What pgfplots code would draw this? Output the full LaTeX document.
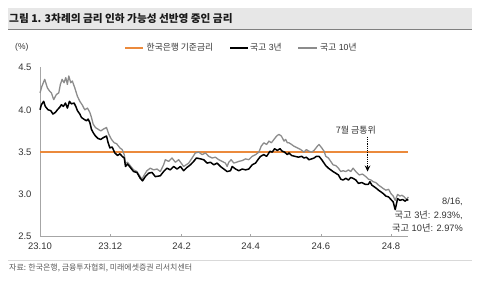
\documentclass[border=0pt]{standalone}
\usepackage{fontspec}
\setmainfont{Liberation Sans}
\newfontfamily\kr{Noto Sans CJK KR}
\usepackage{pgfplots}
\pgfplotsset{compat=1.18}
\usetikzlibrary{arrows.meta}

\definecolor{baseorange}{HTML}{EB8A3C}
\definecolor{tengray}{HTML}{8C8C8C}
\definecolor{axisgray}{HTML}{A6A6A6}
\definecolor{bandgray}{HTML}{E7E7E7}
\definecolor{txt}{HTML}{333333}

% x = days since 2023-10-01
\pgfplotstableread{
d v
0 4.00
1.2 4.06
3.2 4.10
4.6 4.04
7 4.00
9.3 3.99
11.3 3.95
13.4 3.97
15.1 4.00
17.1 4.03
18.6 4.06
20.3 4.04
22.1 4.08
23.8 4.02
25.6 4.10
27.3 4.07
29.6 4.08
31.1 4.04
32.5 3.99
34.6 3.95
36 3.91
38 3.89
40.4 3.87
41.8 3.89
43.3 3.85
44.7 3.77
46.2 3.73
48.2 3.69
50.5 3.66
52.8 3.65
54.9 3.67
57.8 3.69
59.2 3.61
60.7 3.55
62.7 3.56
65 3.49
67.4 3.46
69.4 3.48
71.4 3.45
73.2 3.43
74.3 3.33
76 3.36
78.4 3.32
81.3 3.27
84.2 3.26
87.1 3.19
89.1 3.16
91.5 3.21
94.3 3.25
97.3 3.26
100.2 3.21
104.5 3.22
107.4 3.27
110.3 3.31
113.2 3.29
116.1 3.33
119.1 3.30
122 3.33
124.8 3.28
127.8 3.32
130.7 3.35
133.5 3.39
135.9 3.43
139.4 3.42
142.2 3.41
145.2 3.37
148.1 3.38
151 3.35
153.9 3.37
156.8 3.33
159.7 3.30
162.6 3.27
165.5 3.28
167 3.33
169.9 3.30
172.7 3.28
175.7 3.30
178.6 3.29
181.4 3.30
184.4 3.35
187.3 3.37
189.3 3.41
191.6 3.45
194.5 3.47
196.9 3.45
199.8 3.51
201.8 3.50
203.8 3.54
206.2 3.52
208.5 3.54
210.5 3.51
212.5 3.50
214.9 3.47
216.3 3.49
218.6 3.46
221.5 3.45
224.5 3.44
227.4 3.45
229.4 3.43
231.4 3.44
233.7 3.41
236.1 3.42
238.1 3.43
240.1 3.45
242.4 3.45
244.8 3.41
246.8 3.37
248.3 3.34
250.6 3.31
252.6 3.29
254.6 3.27
257 3.25
259.3 3.23
261.3 3.18
263.3 3.17
265.7 3.19
268 3.17
270 3.20
272 3.19
274.4 3.17
276.7 3.13
279.6 3.14
282.5 3.12
285.4 3.12
286.6 3.15
288.3 3.11
290.4 3.09
292.4 3.07
294.1 3.05
296.2 3.03
298.2 3.01
300.5 2.98
302.9 2.97
304.9 2.94
306.9 2.91
308.6 2.82
310.7 2.95
312.7 2.93
315.1 2.94
317.3 2.92
318.8 2.94
320 2.93
}\ktbthree

\pgfplotstableread{
d v
0 4.20
1.7 4.28
4.1 4.36
6.4 4.26
8.4 4.22
9.9 4.20
11.9 4.12
14.2 4.18
16.3 4.20
17.7 4.30
19.2 4.36
20.9 4.32
22.4 4.38
23.8 4.30
25 4.40
26.7 4.32
28.1 4.34
30.2 4.26
32.5 4.16
34.6 4.10
36.6 4.06
38.9 4.00
41.2 4.02
43.3 3.97
44.7 3.91
46.2 3.83
48.2 3.79
50.5 3.77
52.8 3.75
54.9 3.77
57.8 3.79
59.8 3.71
62.1 3.65
64.5 3.61
66.5 3.60
69.4 3.55
71.4 3.53
73.2 3.47
74.3 3.37
76 3.38
78.4 3.34
81.3 3.29
84.2 3.27
87.1 3.21
88.6 3.18
90.6 3.23
92.9 3.28
95.8 3.31
98.7 3.29
101.7 3.30
104.5 3.27
107.4 3.35
108.9 3.41
111.8 3.39
114.7 3.43
117.6 3.38
120.5 3.41
124.8 3.33
129.2 3.37
132.1 3.43
135 3.49
137.9 3.50
140.9 3.47
143.7 3.49
146.6 3.45
149.6 3.43
152.4 3.44
155.3 3.41
158.3 3.39
161.1 3.37
162.6 3.33
164 3.38
166.1 3.41
168.4 3.37
170.7 3.38
172.7 3.39
175.7 3.40
178.6 3.42
181.4 3.41
184.4 3.45
187.3 3.47
190.2 3.50
192.2 3.57
194.5 3.61
196.9 3.59
198.9 3.63
201 3.61
203.3 3.65
205.6 3.69
207.6 3.71
209.7 3.69
212 3.63
213.4 3.65
214.9 3.61
216.3 3.61
218.6 3.59
220.6 3.57
223.6 3.55
226.5 3.53
229.4 3.50
231.4 3.53
233.7 3.51
236.1 3.50
238.1 3.52
241 3.57
242.4 3.59
244.8 3.55
246.8 3.51
248.3 3.45
250.6 3.43
252.6 3.39
254.6 3.35
257 3.34
259.3 3.31
261.3 3.27
263.3 3.28
265.7 3.27
268 3.29
270 3.27
272 3.31
274.4 3.27
277.3 3.23
280.2 3.24
283.1 3.21
285.4 3.18
287.5 3.17
289.5 3.15
291.8 3.14
294.1 3.11
296.2 3.09
298.2 3.07
300.5 3.05
302.9 3.06
304.9 3.01
306.9 2.98
308.6 2.93
310.7 3.00
312.7 2.98
314.5 2.99
316.5 2.97
318.6 2.94
320 2.97
}\ktbten

\begin{document}
\begin{tikzpicture}[x=1bp,y=1bp]
\useasboundingbox (0,0) rectangle (500,292);

% title band
\fill[bandgray] (8,263) rectangle (472,284);
\draw[gray, line width=0.9bp] (8,263) -- (472,263);
\node[anchor=west, inner sep=0, text=black!90] at (9,273.5)
  {\kr\bfseries\fontsize{10.7}{12}\selectfont 그림 1. 3차례의 금리 인하 가능성 선반영 중인 금리};

% legend and unit
\node[anchor=west, inner sep=0, text=txt] at (15,244.3) {\fontsize{8.5}{10}\selectfont (\%)};
\draw[baseorange, line width=2bp] (125,244.3) -- (143,244.3);
\node[anchor=west, inner sep=0, text=txt] at (146.5,244.3) {\kr\fontsize{8.8}{10}\selectfont 한국은행 기준금리};
\draw[black, line width=1.6bp] (230,244.3) -- (248,244.3);
\node[anchor=west, inner sep=0, text=txt] at (250,244.3) {\fontsize{8.8}{10}\selectfont{\kr 국고} 3{\kr 년}};
\draw[tengray, line width=1.6bp] (298,244.3) -- (317,244.3);
\node[anchor=west, inner sep=0, text=txt] at (320,244.3) {\fontsize{8.8}{10}\selectfont{\kr 국고} 10{\kr 년}};

\begin{axis}[
  at={(40bp,55.3bp)}, anchor=south west,
  scale only axis, width=368.3bp, height=169.2bp,
  xmin=0, xmax=320, ymin=2.5, ymax=4.5,
  axis x line*=bottom, axis y line*=left,
  axis line style={draw=axisgray, line width=0.8bp, -},
  xtick={0,61,123,183,244,305},
  xticklabels={23.10,23.12,24.2,24.4,24.6,24.8},
  ytick={2.5,3.0,3.5,4.0,4.5},
  yticklabel style={/pgf/number format/fixed, /pgf/number format/fixed zerofill, /pgf/number format/precision=1, xshift=-5bp},
  xticklabel style={yshift=-3bp},
  tick align=inside,
  major tick length=3bp,
  x tick style={draw=axisgray, line width=0.6bp},
  y tick style={draw=none},
  tick label style={font=\fontsize{9.5}{11}\selectfont, text=txt},
  /pgf/number format/assume math mode=true,
  clip=false,
]
\addplot[baseorange, line width=1.5bp] coordinates {(0,3.5) (320,3.5)};
\addplot[tengray, line width=1.3bp, line join=round] table[x=d, y=v] {\ktbten};
\addplot[black, line width=1.5bp, line join=round] table[x=d, y=v] {\ktbthree};

% July MPC meeting
\node[text=txt, inner sep=0] at (axis cs:274.4,3.76) {\kr\fontsize{9}{10}\selectfont 7월 금통위};
\draw[black, densely dotted, line width=1.2bp, -{Stealth[length=6bp,width=5.5bp]}]
  (axis cs:284.6,3.68) -- (axis cs:284.6,3.27);
\end{axis}

% last values
\node[anchor=east, inner sep=0, text=txt] at (463,90.3) {\fontsize{9.3}{10}\selectfont 8/16,};
\node[anchor=east, inner sep=0, text=txt] at (463,77) {\fontsize{9.3}{10}\selectfont{\kr 국고} 3{\kr 년}: 2.93\%,};
\node[anchor=east, inner sep=0, text=txt] at (463,63.7) {\fontsize{9.3}{10}\selectfont{\kr 국고} 10{\kr 년}: 2.97\%};

% source
\draw[black!15, line width=0.8bp] (8,31.3) -- (472,31.3);
\node[anchor=west, inner sep=0, text=black!65] at (9,23.7)
  {\kr\fontsize{8}{9}\selectfont 자료: 한국은행, 금융투자협회, 미래에셋증권 리서치센터};
\end{tikzpicture}
\end{document}
